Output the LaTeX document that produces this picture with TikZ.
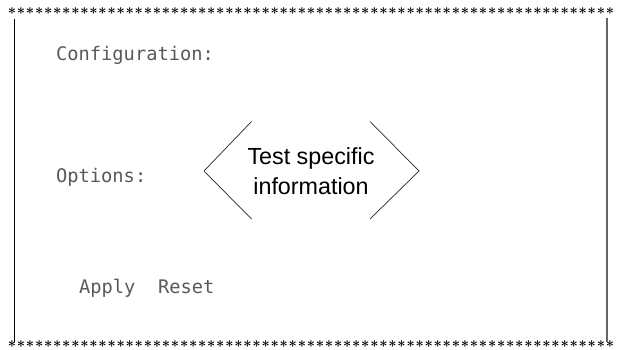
\documentclass[tikz,border=0pt]{standalone}
\usepackage{fontspec}
\setmainfont{Liberation Sans}
\newfontfamily\guimono{DejaVu Sans Mono}
\begin{document}
\begin{tikzpicture}[x=1pt,y=-1pt,
  star/.style={inner sep=0pt, anchor=center, text=black, font=\fontsize{15}{15}\selectfont\boldmath},
  guilabel/.style={inner sep=0pt, anchor=base west, text=black!65, font=\guimono\fontsize{18.7}{20}\selectfont},
  bracket/.style={draw=black!85, line width=0.7pt},
  info/.style={inner sep=0pt, align=center, font=\fontsize{23.3}{30}\selectfont}]
\useasboundingbox (0,0) rectangle (620,350);
% asterisk rows
\foreach \i in {0,...,66} {
  \node[star] (t\i) at (12+9.06*\i, 11.5) {$\ast$};
  \node[star] (b\i) at (12+9.06*\i, 344) {$\ast$};
}
% side lines
\coordinate (lt) at (14.5,19);
\coordinate (lb) at (14.5,342);
\coordinate (rt) at (607,18);
\coordinate (rb) at (607,342);
\draw[line width=0.8pt, black] (lt) -- (lb);
\draw[line width=1.2pt, black!60] (rt) -- (rb);
% gui labels
\node[guilabel] (conf) at (56,60.5) {Configuration:};
\node[guilabel] (opt) at (56,182.5) {Options:};
\node[guilabel] (apply) at (79,293) {Apply};
\node[guilabel] (reset) at (158,293) {Reset};
% brackets
\coordinate (l1) at (251.5,121.5);
\coordinate (l2) at (204,171);
\coordinate (l3) at (251.5,219);
\coordinate (r1) at (370,121.5);
\coordinate (r2) at (419,171);
\coordinate (r3) at (370,219);
\draw[bracket] (l1) -- (l2) -- (l3);
\draw[bracket] (r1) -- (r2) -- (r3);
\node[info] (txt) at (311,171) {Test specific\\information};
\end{tikzpicture}
\end{document}
